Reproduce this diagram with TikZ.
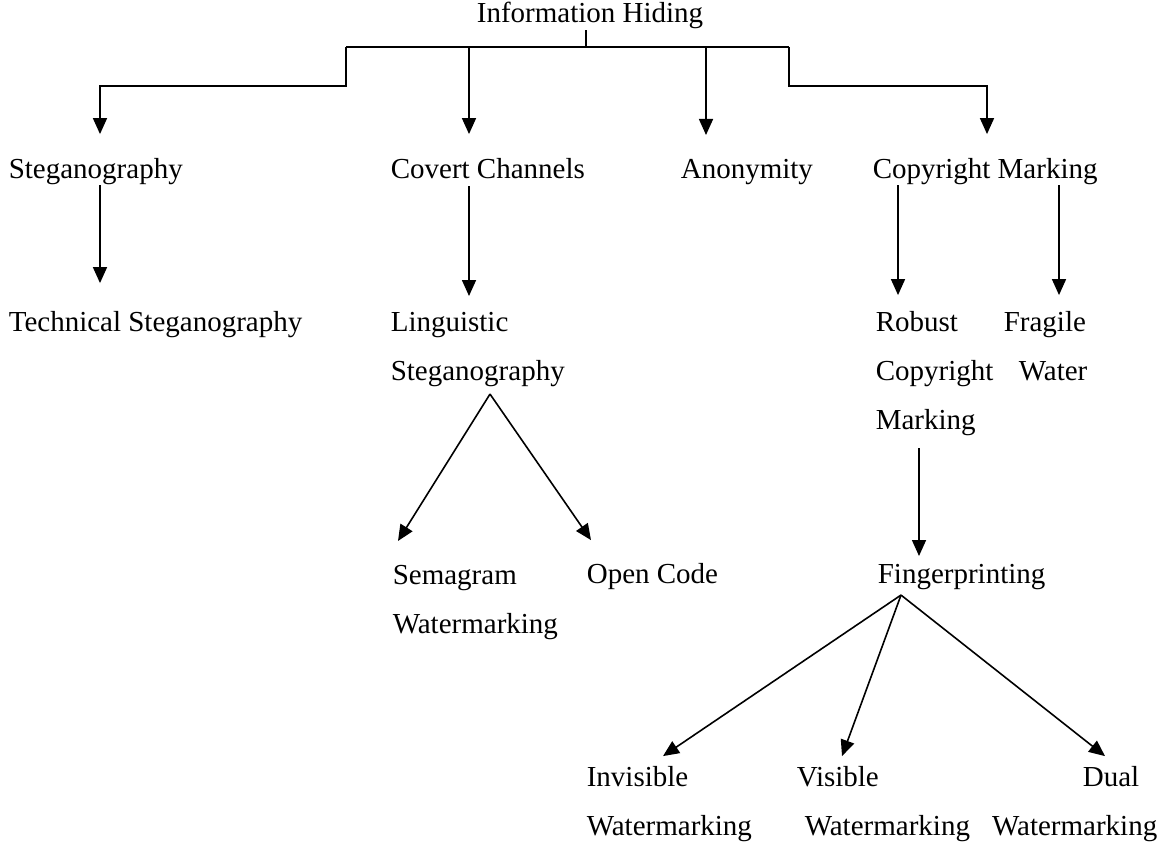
\documentclass[tikz,border=0pt]{standalone}
\usepackage{fontspec}
\setmainfont{Liberation Serif}
\usetikzlibrary{arrows.meta}

\begin{document}
\begin{tikzpicture}[->,>={Triangle[length=8pt,width=7pt]}, x=0.5pt, y=-0.5pt,
	line width=0.8pt,
	every node/.style={inner sep=0pt, anchor=base west, align=left,
		font=\fontsize{14.5pt}{24.5pt}\selectfont},
	barline/.style={-, line width=1.1pt}
	]
\path[use as bounding box, fill=white, -] (0,0) rectangle (1159,845);
% \draw[help lines,-] (0,0) grid[step=100] (1159,845);
\node[anchor=base] (top) at (590,23) {Information Hiding};

% nodes sit on the baseline of their last line
\node (steg)    at (8,178)   {Steganography};
\node (covert)  at (390,178) {Covert Channels};
\node (anon)    at (680,178) {Anonymity};
\node (copy)    at (872,178) {Copyright Marking};

\node (tech)    at (8,331)    {Technical Steganography};
\node (ling)    at (390,380)  {Linguistic\\Steganography};
\node (robust)  at (875,429)  {Robust\\Copyright\\Marking};
\node (fragile) at (1003,380) {Fragile\\\hspace*{7.5pt}Water};

\node (sema)    at (392,633) {Semagram\\Watermarking};
\node (open)    at (586,583) {Open Code};
\node (finger)  at (877,583) {Fingerprinting};

\node (invis)   at (586,835) {Invisible\\Watermarking};
\node (vis)     at (796,835) {Visible\\\hspace*{4pt}Watermarking};
\node[anchor=base east, align=right] (dual) at (1158,835) {Dual\hspace*{9pt}\\Watermarking};

% branching under the root
\coordinate (bar)  at (586,47);
\coordinate (barL) at (346,47);
\coordinate (barR) at (789,47);
\coordinate (tS) at ([xshift=46pt,yshift=11.5pt]steg.north west);
\coordinate (tC) at ([xshift=39.5pt,yshift=11.5pt]covert.north west);
\coordinate (tA) at ([xshift=13pt,yshift=11.5pt]anon.north west);
\coordinate (tP) at ([xshift=57.5pt,yshift=11.5pt]copy.north west);

\draw[barline] (top.south -| bar) -- (bar);
\draw[barline] (barL) -- (barR);
\draw (barL) -- ++(0,39) -| (tS);
\draw (tC |- bar) -- (tC);
\draw (tA |- bar) -- (tA);
\draw (barR) -- ++(0,39) -| (tP);

\path
([xshift=46pt]steg.south west)              edge ([xshift=46pt,yshift=13.5pt]tech.north west)
([xshift=39.5pt,yshift=-3.5pt]covert.south west) edge ([xshift=39.5pt,yshift=7.5pt]ling.north west)
([xshift=13pt]copy.south west)              edge ([xshift=11.5pt,yshift=7.5pt]robust.north west)
([xshift=93.5pt]copy.south west)            edge ([xshift=28pt,yshift=7.5pt]fragile.north west)
([xshift=22pt,yshift=-6pt]robust.south west)  edge ([xshift=21pt,yshift=3.5pt]finger.north west)
;
\path
([xshift=50pt,yshift=-3.5pt]ling.south west)  edge ([xshift=3pt,yshift=11.5pt]sema.north west)
([xshift=50pt,yshift=-3.5pt]ling.south west)  edge ([xshift=2.5pt,yshift=11pt]open.north west)
([xshift=12pt,yshift=-2.5pt]finger.south west) edge ([xshift=38.5pt,yshift=4.5pt]invis.north west)
([xshift=12pt,yshift=-2.5pt]finger.south west) edge ([xshift=23pt,yshift=4.5pt]vis.north west)
([xshift=12pt,yshift=-2.5pt]finger.south west) edge ([xshift=-26.5pt,yshift=4.5pt]dual.north east)
;
\end{tikzpicture}
\end{document}
